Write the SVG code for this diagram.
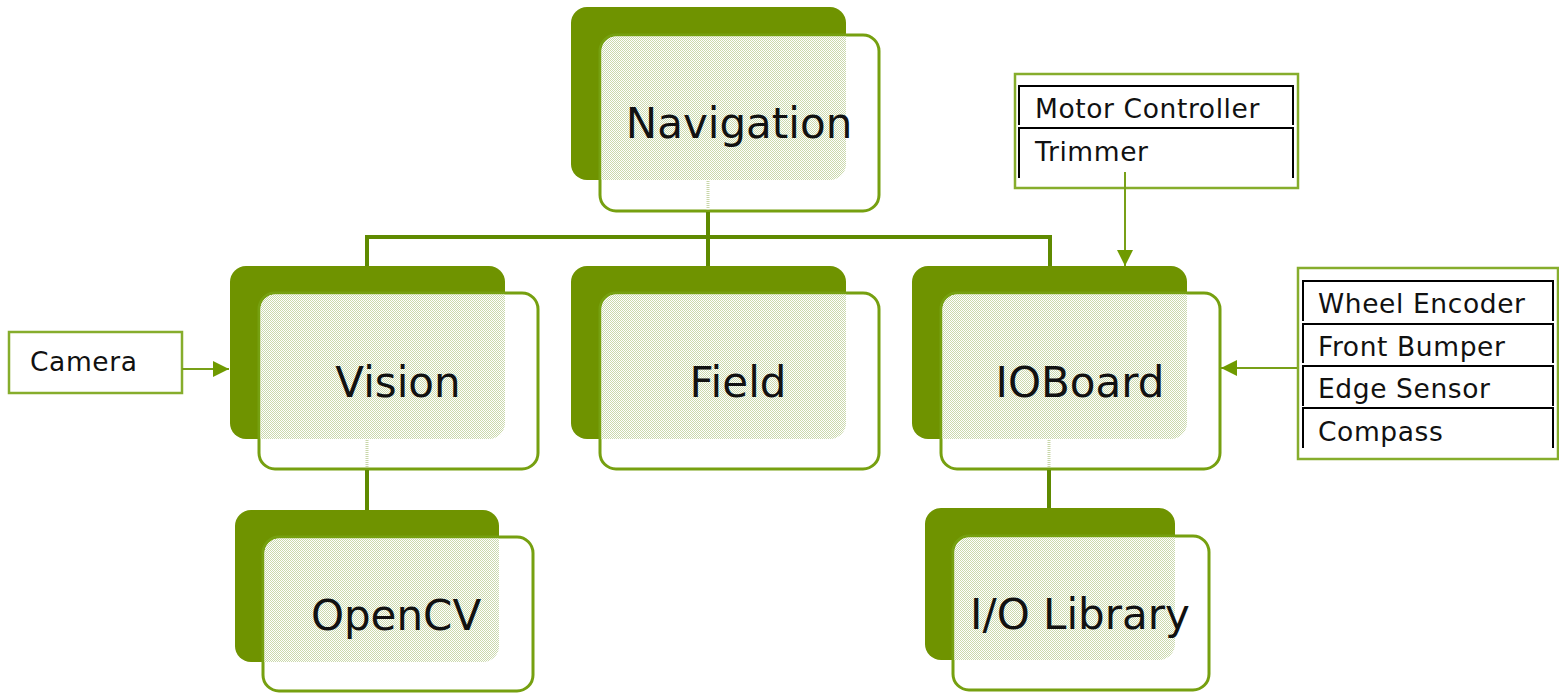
<svg xmlns="http://www.w3.org/2000/svg" width="1559" height="693" viewBox="0 0 1559 693">
<style>
.back{fill:#6f9300}
.front{fill:#fff;stroke:#76a010;stroke-width:3}
.dots{fill:url(#dither)}
.big{font-family:"DejaVu Sans","Liberation Sans",sans-serif;font-size:42px;fill:#111;text-anchor:middle}
.small{font-family:"DejaVu Sans","Liberation Sans",sans-serif;font-size:26.5px;letter-spacing:0.6px;fill:#111}
.conn{stroke:#5f8a00;stroke-width:4;fill:none}
.faint{stroke:#c8d6a8;stroke-width:3;stroke-dasharray:1 1;fill:none}
.arr{stroke:#78a018;stroke-width:2;fill:none}
.box{fill:#fff;stroke:#86ad2c;stroke-width:2.5}
.cell{stroke:#000;stroke-width:2;fill:none}
</style>
<defs>
<pattern id="dither" width="2" height="2" patternUnits="userSpaceOnUse">
<rect width="2" height="2" fill="#fff"/>
<rect x="0" y="0" width="1" height="1" fill="#cbd9ac"/>
<rect x="1" y="1" width="1" height="1" fill="#cbd9ac"/>
</pattern>
<clipPath id="cNav"><rect x="571" y="7" width="275" height="173" rx="16"/></clipPath>
<clipPath id="cVis"><rect x="230" y="266" width="275" height="173" rx="16"/></clipPath>
<clipPath id="cFld"><rect x="571" y="266" width="275" height="173" rx="16"/></clipPath>
<clipPath id="cIOB"><rect x="912" y="266" width="275" height="173" rx="16"/></clipPath>
<clipPath id="cOCV"><rect x="235" y="510" width="264" height="152" rx="16"/></clipPath>
<clipPath id="cIOL"><rect x="925" y="508" width="250" height="152" rx="16"/></clipPath>
<marker id="ahb" viewBox="0 0 10 10" refX="10" refY="5" markerWidth="16" markerHeight="16" markerUnits="userSpaceOnUse" orient="auto">
<path d="M0,0 L10,5 L0,10 z" fill="#6f9a00"/>
</marker>
</defs>
<rect width="1559" height="693" fill="#fff"/>

<g id="navigation">
<rect class="back" x="571" y="7" width="275" height="173" rx="16"/>
<rect class="front" x="600" y="35" width="279" height="176" rx="16"/>
<rect class="dots" x="601.5" y="36.5" width="276" height="173" rx="15" clip-path="url(#cNav)"/>
<text class="big" x="739" y="138">Navigation</text>
</g>

<g id="vision">
<rect class="back" x="230" y="266" width="275" height="173" rx="16"/>
<rect class="front" x="259" y="293" width="279" height="176" rx="16"/>
<rect class="dots" x="260.5" y="294.5" width="276" height="173" rx="15" clip-path="url(#cVis)"/>
<text class="big" x="398" y="397">Vision</text>
</g>

<g id="field">
<rect class="back" x="571" y="266" width="275" height="173" rx="16"/>
<rect class="front" x="600" y="293" width="279" height="176" rx="16"/>
<rect class="dots" x="601.5" y="294.5" width="276" height="173" rx="15" clip-path="url(#cFld)"/>
<text class="big" x="738" y="397">Field</text>
</g>

<g id="ioboard">
<rect class="back" x="912" y="266" width="275" height="173" rx="16"/>
<rect class="front" x="941" y="293" width="279" height="176" rx="16"/>
<rect class="dots" x="942.5" y="294.5" width="276" height="173" rx="15" clip-path="url(#cIOB)"/>
<text class="big" x="1080" y="397">IOBoard</text>
</g>

<g id="opencv">
<rect class="back" x="235" y="510" width="264" height="152" rx="16"/>
<rect class="front" x="263" y="537" width="270" height="154" rx="16"/>
<rect class="dots" x="264.5" y="538.5" width="267" height="151" rx="15" clip-path="url(#cOCV)"/>
<text class="big" x="396" y="630">OpenCV</text>
</g>

<g id="iolibrary">
<rect class="back" x="925" y="508" width="250" height="152" rx="16"/>
<rect class="front" x="953" y="536" width="256" height="154" rx="16"/>
<rect class="dots" x="954.5" y="537.5" width="253" height="151" rx="15" clip-path="url(#cIOL)"/>
<text class="big" x="1080" y="629">I/O Library</text>
</g>

<g id="camera">
<rect class="box" x="9" y="332" width="173" height="61"/>
<text class="small" x="30" y="371">Camera</text>
</g>

<g id="motor">
<rect class="box" x="1015" y="74" width="283" height="114"/>
<path class="cell" d="M1019,125 V86 H1293 V125"/>
<path class="cell" d="M1019,178 V128 H1293 V178"/>
<text class="small" x="1035" y="118">Motor Controller</text>
<text class="small" x="1035" y="161">Trimmer</text>
</g>

<g id="sensors">
<rect class="box" x="1298" y="268" width="260" height="191"/>
<path class="cell" d="M1303,321 V281 H1553 V321"/>
<path class="cell" d="M1303,363 V324 H1553 V363"/>
<path class="cell" d="M1303,406 V366 H1553 V406"/>
<path class="cell" d="M1303,448 V408 H1553 V448"/>
<text class="small" x="1318" y="313">Wheel Encoder</text>
<text class="small" x="1318" y="356">Front Bumper</text>
<text class="small" x="1318" y="398">Edge Sensor</text>
<text class="small" x="1318" y="441">Compass</text>
</g>

<g id="connectors">
<path class="faint" d="M708,181 V210 M367,440 V468 M1049,440 V468"/>
<path class="conn" d="M708,212 V237 M367,237 H1050 M367,235 V266 M708,237 V266 M1050,235 V266"/>
<path class="conn" d="M367,470 V510"/>
<path class="conn" d="M1049,470 V508"/>
<line class="arr" x1="182" y1="369" x2="229" y2="369" marker-end="url(#ahb)"/>
<line class="arr" x1="1125" y1="172" x2="1125" y2="266" marker-end="url(#ahb)"/>
<line class="arr" x1="1297" y1="368" x2="1221" y2="368" marker-end="url(#ahb)"/>
</g>
</svg>
